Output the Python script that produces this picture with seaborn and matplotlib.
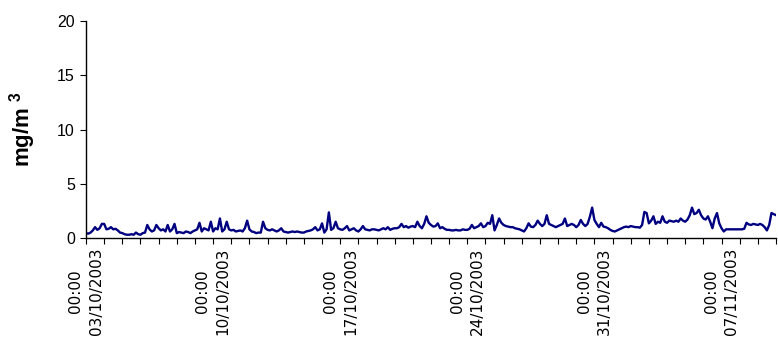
import matplotlib
matplotlib.use("Agg")
import matplotlib.pyplot as plt
import matplotlib.dates as mdates
import numpy as np
import pandas as pd
import seaborn as sns

# Three-hourly concentrations (mg/m3), one array per week starting at 00:00 on the given day
wk_03oct = [0.45, 0.4, 0.5, 0.7, 1.0, 0.75, 0.9, 1.3,
            1.3, 0.8, 0.85, 1.0, 0.8, 0.85, 0.7, 0.5,
            0.45, 0.35, 0.3, 0.3, 0.35, 0.3, 0.5, 0.35,
            0.3, 0.45, 0.5, 1.2, 0.8, 0.6, 0.7, 1.2,
            0.9, 0.7, 0.8, 0.6, 1.2, 0.6, 0.8, 1.3,
            0.45, 0.55, 0.5, 0.45, 0.6, 0.55, 0.45, 0.6,
            0.7, 0.8, 1.4, 0.6, 0.9, 0.8, 0.7, 1.5]
wk_10oct = [0.6, 0.9, 0.8, 1.8, 0.6, 0.8, 1.5, 0.8,
            0.7, 0.75, 0.6, 0.65, 0.7, 0.6, 0.9, 1.6,
            0.8, 0.6, 0.55, 0.45, 0.5, 0.5, 1.5, 0.9,
            0.75, 0.7, 0.8, 0.7, 0.6, 0.7, 0.9, 0.6,
            0.55, 0.5, 0.55, 0.6, 0.55, 0.6, 0.55, 0.5,
            0.5, 0.6, 0.65, 0.7, 0.8, 1.0, 0.7, 0.8,
            1.35, 0.5, 0.8, 2.36, 0.75, 0.9, 1.5, 0.9]
wk_17oct = [0.8, 0.75, 0.9, 1.1, 0.7, 0.8, 0.9, 0.7,
            0.6, 0.8, 1.1, 0.8, 0.75, 0.7, 0.8, 0.8,
            0.75, 0.7, 0.8, 0.9, 0.8, 1.0, 0.75, 0.85,
            0.9, 0.9, 1.0, 1.3, 1.0, 1.1, 0.95, 1.05,
            1.1, 1.0, 1.5, 1.1, 0.9, 1.3, 2.0, 1.4,
            1.2, 1.05, 1.1, 1.35, 0.9, 1.0, 0.85, 0.75,
            0.75, 0.7, 0.7, 0.75, 0.7, 0.7, 0.8, 0.75]
wk_24oct = [0.75, 0.85, 1.2, 0.9, 1.0, 1.1, 1.35, 1.0,
            1.1, 1.4, 1.3, 2.1, 0.7, 1.2, 1.8, 1.4,
            1.2, 1.1, 1.05, 1.0, 1.0, 0.9, 0.85, 0.8,
            0.7, 0.6, 0.9, 1.35, 1.05, 1.0, 1.2, 1.6,
            1.3, 1.1, 1.3, 2.1, 1.3, 1.2, 1.1, 1.0,
            1.1, 1.2, 1.3, 1.8, 1.1, 1.2, 1.3, 1.2,
            1.0, 1.2, 1.66, 1.3, 1.1, 1.3, 1.97, 2.8]
wk_31oct = [1.66, 1.3, 1.0, 1.4, 1.05, 1.0, 0.9, 0.75,
            0.65, 0.6, 0.7, 0.8, 0.9, 1.0, 1.05, 1.0,
            1.1, 1.05, 1.0, 1.0, 0.95, 1.2, 2.4, 2.3,
            1.35, 1.6, 2.0, 1.3, 1.5, 1.4, 2.0, 1.5,
            1.4, 1.6, 1.55, 1.5, 1.6, 1.5, 1.8, 1.6,
            1.5, 1.7, 2.1, 2.8, 2.2, 2.3, 2.6, 2.1,
            1.8, 1.7, 2.0, 1.5, 0.9, 1.8, 2.3, 1.35]
wk_07nov = [0.9, 0.6, 0.8, 0.8, 0.8, 0.8, 0.8, 0.8,
            0.8, 0.8, 0.85, 1.4, 1.25, 1.2, 1.3, 1.25,
            1.2, 1.3, 1.2, 1.0, 0.7, 1.2, 2.3, 2.2,
            2.1]

start = "2003-10-03 00:00"
tick_dates = ["2003-10-03", "2003-10-10", "2003-10-17",
              "2003-10-24", "2003-10-31", "2003-11-07"]

values = wk_03oct + wk_10oct + wk_17oct + wk_24oct + wk_31oct + wk_07nov
times = pd.date_range(start, periods=len(values), freq="3h")
df = pd.DataFrame({"time": times, "conc": values})

sns.set_style("ticks")
plt.rcParams["font.family"] = ["Liberation Sans", "DejaVu Sans"]
plt.rcParams["mathtext.fontset"] = "custom"
plt.rcParams["mathtext.rm"] = "Liberation Sans:bold"
plt.rcParams["mathtext.default"] = "rm"
plt.rcParams["text.color"] = "black"
plt.rcParams["axes.labelcolor"] = "black"

fig = plt.figure(figsize=(7.78, 3.44), dpi=100)
ax = fig.add_axes([86 / 778, 1 - 238 / 344, 690 / 778, 217 / 344])

sns.lineplot(data=df, x="time", y="conc", ax=ax, color="#000080",
             linewidth=1.7)

ax.set_ylim(0, 20)
ax.set_yticks([0, 5, 10, 15, 20])
ax.set_xlim(times[0], times[-1])
ax.set_xticks(pd.to_datetime(tick_dates))
ax.xaxis.set_minor_locator(mdates.DayLocator())
ax.xaxis.set_major_formatter(mdates.DateFormatter("%H:%M\n%d/%m/%Y"))

for sp in ["top", "right"]:
    ax.spines[sp].set_visible(False)
for sp in ["left", "bottom"]:
    ax.spines[sp].set_color("black")
    ax.spines[sp].set_linewidth(1.0)

ax.tick_params(axis="y", direction="out", length=4, width=0.8,
               labelsize=11.5, pad=4, colors="black", labelcolor="black")
ax.tick_params(axis="x", which="both", direction="out", length=4,
               width=0.8, colors="black", labelcolor="black")
ax.tick_params(axis="x", which="major", pad=3)
for lbl in ax.get_xticklabels():
    lbl.set_rotation(90)
    lbl.set_ha("center")
    lbl.set_va("top")
    lbl.set_multialignment("center")
    lbl.set_family("DejaVu Sans")
    lbl.set_fontsize(11)
    lbl.set_linespacing(1.45)

ax.set_xlabel("")
ax.set_ylabel(r"mg/m $^{3}$", fontsize=16, fontweight="bold", color="black")
ax.yaxis.set_label_coords(-0.069, 0.5)

fig.savefig("out.png", dpi=100)
